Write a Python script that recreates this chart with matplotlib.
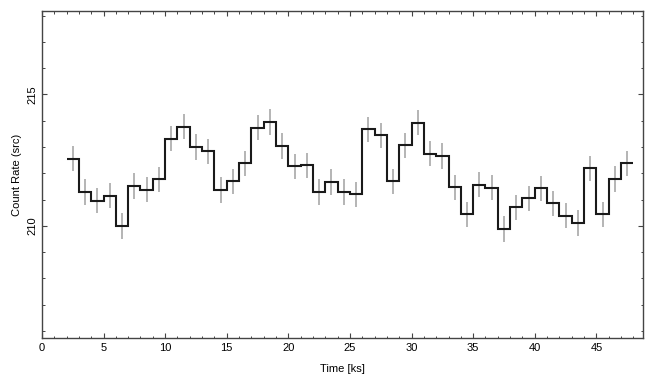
import numpy as np
import matplotlib
matplotlib.use("Agg")
import matplotlib.pyplot as plt
from matplotlib.ticker import MultipleLocator

plt.rcParams['font.family'] = ['Liberation Sans', 'DejaVu Sans']

# light curve: 1 ks bins starting at 2 ks
bin_start = 2.0
bin_width = 1.0
rate = [212.55, 211.29, 210.95, 211.14, 209.99, 211.52, 211.37, 211.77,
        213.32, 213.77, 213.00, 212.84, 211.36, 211.70, 212.38, 213.74,
        213.95, 213.04, 212.26, 212.31, 211.29, 211.67, 211.29, 211.20,
        213.68, 213.45, 211.70, 213.07, 213.92, 212.75, 212.66, 211.47,
        210.44, 211.56, 211.45, 209.88, 210.71, 211.05, 211.43, 210.86,
        210.39, 210.11, 212.19, 210.44, 211.78, 212.38]
rate_err = [0.48] * len(rate)

rate = np.array(rate)
n = len(rate)
edges = bin_start + bin_width * np.arange(n + 1)
centers = 0.5 * (edges[:-1] + edges[1:])

fig = plt.figure(figsize=(6.55, 3.85), dpi=100)
ax = fig.add_axes([0.064, 0.122, 0.918, 0.849])

ax.errorbar(centers, rate, yerr=rate_err, fmt='none', ecolor='#b4b4b4',
            elinewidth=1.4, capsize=0, zorder=2)
ax.stairs(rate, edges, color='#1a1a1a', linewidth=1.5, baseline=None, zorder=3)

ax.set_xlim(0, 48.8)
ax.set_ylim(205.73, 218.17)
ax.xaxis.set_major_locator(MultipleLocator(5))
ax.xaxis.set_minor_locator(MultipleLocator(1))
ax.yaxis.set_major_locator(MultipleLocator(5))
ax.yaxis.set_minor_locator(MultipleLocator(1))
ax.tick_params(which='both', direction='in', top=True, right=True,
               color='#444444', labelsize=8)
ax.tick_params(which='major', length=3.5, width=0.8)
ax.tick_params(which='minor', length=1.8, width=0.7)
for lbl in ax.get_yticklabels():
    lbl.set_rotation(90)
    lbl.set_va('center')
for s in ax.spines.values():
    s.set_color('#444444')
    s.set_linewidth(1.0)

ax.set_xlabel('Time [ks]', fontsize=8, labelpad=8)
ax.set_ylabel('Count Rate (src)', fontsize=8, labelpad=4)

fig.savefig('out.png', dpi=100)
